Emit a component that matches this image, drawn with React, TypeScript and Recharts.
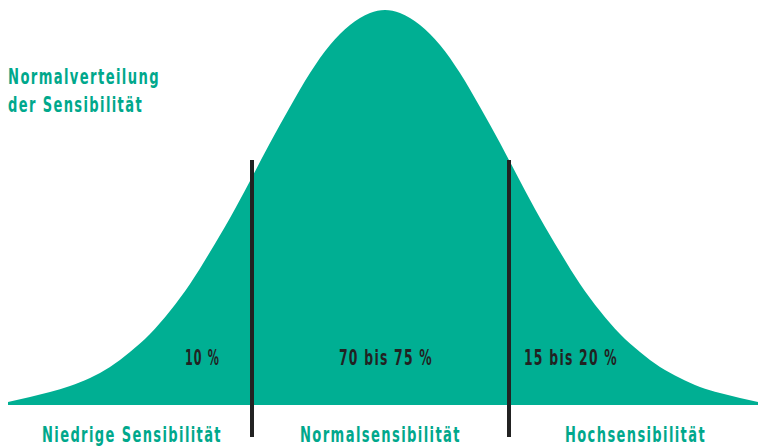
import React from 'react';
import { ComposedChart, Area, XAxis, YAxis, ReferenceLine } from 'recharts';

const positions = [8, 30, 50, 70, 90, 110, 130, 150, 170, 190, 210, 230, 250, 270, 290, 310, 330, 350, 370, 385, 400, 420, 440, 460, 480, 500, 520, 540, 560, 580, 600, 620, 640, 660, 680, 700, 720, 740, 758];
const heights = [3, 8, 13, 19, 27, 38, 53, 71, 94, 121, 153, 187, 224, 262, 298, 332, 360, 380, 392, 395, 392, 380, 360, 332, 298, 262, 224, 187, 153, 121, 94, 71, 53, 38, 27, 18, 12, 7, 3];
const dividers = [252, 509];
const percentLabels = ['10 %', '70 bis 75 %', '15 bis 20 %'];
const groupLabels = ['Niedrige Sensibilität', 'Normalsensibilität', 'Hochsensibilität'];
const titleLines = ['Normalverteilung', 'der Sensibilität'];

const data = positions.map((p, i) => ({ x: p, h: heights[i] }));

const TEAL = '#00AF93';
const TEXT_TEAL = '#00A88C';
const DARK = '#222222';
const FONT = '"DejaVu Sans", sans-serif';

// layout of text boxes: [left, baseline, width]
const titleBoxes = [[8, 84, 152], [8, 112, 135]];
const percentBoxes = [[185, 365, 35], [339, 365, 94], [524, 365, 94]];
const groupBoxes = [[42, 442, 180], [300, 442, 161], [565, 442, 141]];

const T = ({ box, text, fill, size }: { box: number[]; text: string; fill: string; size: number }) => (
  <text x={box[0]} y={box[1]} textLength={box[2]} lengthAdjust="spacingAndGlyphs" letterSpacing={2} fill={fill} fontSize={size} fontFamily={FONT} fontWeight="bold" style={{ fontStretch: 'condensed' }}>{text}</text>
);

export default function App() {
  return (
    <div style={{ position: 'absolute', left: 0, top: 0, width: 758, height: 448, background: '#fff' }}>
      <ComposedChart width={758} height={448} data={data} margin={{ top: 0, right: 0, bottom: 0, left: 0 }}>
        <XAxis dataKey="x" type="number" domain={[0, 758]} hide />
        <YAxis type="number" domain={[-43, 405]} hide allowDataOverflow />
        <Area type="monotone" dataKey="h" fill={TEAL} fillOpacity={1} stroke="none" baseValue={0} dot={false} activeDot={false} isAnimationActive={false} />
        {dividers.map((d) => (
          <ReferenceLine key={d} segment={[{ x: d, y: 245 }, { x: d, y: -32 }]} stroke={DARK} strokeWidth={4} ifOverflow="visible" />
        ))}
      </ComposedChart>
      <svg width={758} height={448} style={{ position: 'absolute', left: 0, top: 0, pointerEvents: 'none' }}>
        {titleLines.map((t, i) => <T key={t} box={titleBoxes[i]} text={t} fill={TEXT_TEAL} size={21} />)}
        {percentLabels.map((t, i) => <T key={t} box={percentBoxes[i]} text={t} fill={DARK} size={22} />)}
        {groupLabels.map((t, i) => <T key={t} box={groupBoxes[i]} text={t} fill={TEXT_TEAL} size={21} />)}
      </svg>
    </div>
  );
}
